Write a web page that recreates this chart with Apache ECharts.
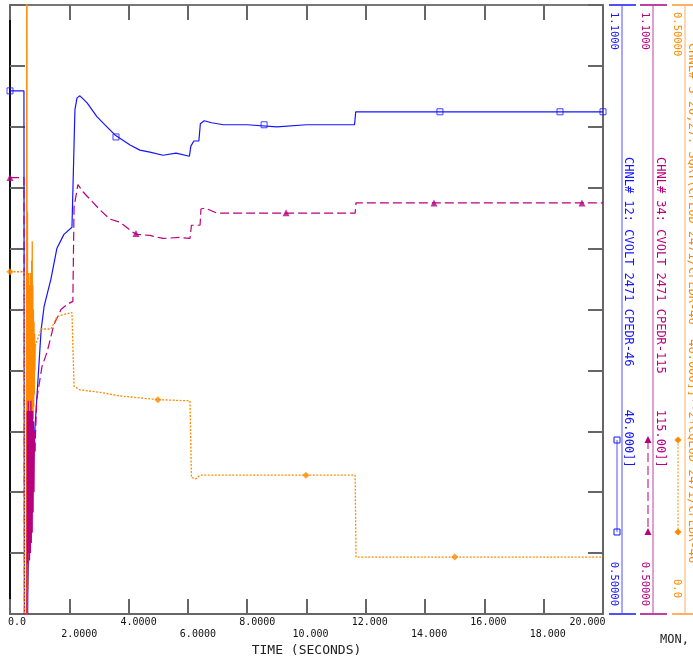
<!DOCTYPE html>
<html><head><meta charset="utf-8">
<script src="https://cdn.jsdelivr.net/npm/echarts@6/dist/echarts.min.js"></script>
<style>html,body{margin:0;padding:0;background:#fff}#c{width:693px;height:663px}</style>
</head><body><div id="c"></div>
<script>
// ---------- data ----------
const xTickLabels = ['0.0','2.0000','4.0000','6.0000','8.0000','10.000','12.000','14.000','16.000','18.000','20.000'];
const xRange = [0, 20];
const voltRange = [0.5, 1.1];
const sumRange = [0.0, 0.5];
const blueScaleLabels = ['1.1000', '0.50000'];
const magScaleLabels = ['1.1000', '0.50000'];
const orangeScaleLabels = ['0.50000', '0.0'];
const seriesTitles = [
  'CHNL# 12: CVOLT 2471 CPEDR-46      46.000]]',
  'CHNL# 34: CVOLT 2471 CPEDR-115     115.00]]',
  "CHNL#'S 20,27: SQRT(CPLOD 2471/CPEDR-46  46.000]]**2+CQLOD 2471/CPEDR-46"
];
const xTitle = 'TIME (SECONDS)';
const cornerNote = 'MON,';

// channel 12 (blue)
const blueVolt = [[0,1.0154],[0.47,1.0154],[0.49,0.40],[0.57,0.40],[0.60,0.52],[0.68,0.609],[0.88,0.701],[1.05,0.780],[1.15,0.803],[1.38,0.830],[1.58,0.860],[1.82,0.874],[2.09,0.881],[2.125,0.882],[2.19,0.997],[2.26,1.0085],[2.36,1.0105],[2.60,1.0036],[2.93,0.990],[3.27,0.980],[3.54,0.972],[4.05,0.962],[4.38,0.957],[4.72,0.955],[5.16,0.952],[5.60,0.954],[6.05,0.951],[6.07,0.951],[6.10,0.961],[6.20,0.966],[6.37,0.966],[6.42,0.983],[6.55,0.986],[6.80,0.984],[7.20,0.982],[8.0,0.982],[9.0,0.980],[10.0,0.982],[11.62,0.982],[11.66,0.9948],[20,0.9948]];
const blueMarks = [[0,1.0154],[3.575,0.970],[8.57,0.982],[14.5,0.9948],[18.55,0.9948],[20,0.9948]];

// channel 34 (magenta): dashed trace with a gap over the fault swing
const magVolt = [[0,0.930],[0.47,0.930],[0.49,0.42],[0.50,'-'],[0.84,0.66],[0.90,0.711],[1.08,0.744],[1.25,0.758],[1.48,0.785],[1.72,0.800],[1.92,0.805],[2.12,0.808],[2.16,0.901],[2.29,0.923],[2.46,0.916],[3.04,0.898],[3.37,0.889],[3.71,0.886],[4.15,0.876],[4.28,0.874],[4.72,0.873],[5.16,0.870],[5.73,0.871],[6.07,0.870],[6.12,0.883],[6.41,0.883],[6.44,0.899],[6.58,0.900],[6.98,0.895],[11.64,0.895],[11.67,0.905],[20,0.905]];
// magenta fault swing (dense oscillation)
const magFault = [[0.49,0.42],[0.57,0.42],[0.58,0.70],[0.60,0.55],[0.615,0.71],[0.63,0.56],[0.645,0.70],[0.66,0.553],[0.675,0.70],[0.69,0.56],[0.705,0.71],[0.72,0.57],[0.735,0.70],[0.75,0.58],[0.765,0.70],[0.78,0.60],[0.795,0.69],[0.81,0.62],[0.825,0.68],[0.84,0.66]];
const magMarks = [[0,0.930],[4.25,0.875],[9.31,0.8954],[14.3,0.905],[19.29,0.905]];

// channels 20,27 (orange): dotted trace with a gap over the fault swing
const orangeSum = [[0,0.281],[0.47,0.281],[0.49,-0.05],[0.50,'-'],[0.85,0.22],[1.05,0.234],[1.38,0.234],[1.585,0.244],[1.82,0.246],[2.09,0.2475],[2.125,0.2475],[2.16,0.187],[2.36,0.184],[3.04,0.182],[3.71,0.179],[4.99,0.176],[6.07,0.175],[6.12,0.112],[6.27,0.111],[6.41,0.114],[11.64,0.114],[11.67,0.0467],[20,0.0467]];
// orange fault swing (dense oscillation)
const orangeFault = [[0.56,-0.05],[0.57,1.2],[0.575,-0.05],[0.59,0.33],[0.60,0.02],[0.61,0.27],[0.62,0.05],[0.63,0.28],[0.64,0.10],[0.65,0.26],[0.66,0.13],[0.67,0.27],[0.68,0.14],[0.69,0.28],[0.70,0.15],[0.71,0.27],[0.72,0.15],[0.73,0.29],[0.74,0.15],[0.75,0.306],[0.76,0.16],[0.77,0.27],[0.78,0.16],[0.79,0.25],[0.80,0.17],[0.81,0.24],[0.82,0.18],[0.83,0.23],[0.84,0.20],[0.85,0.22]];
const orangeMarks = [[0,0.281],[4.99,0.176],[9.98,0.114],[15.0,0.0467]];

// ---------- styling ----------
const BLUE = '#1414ff', MAG = '#b8007f', ORG = '#ff8a00';
const MONO = '"DejaVu Sans Mono", "Liberation Mono", monospace';

const chart = echarts.init(document.getElementById('c'), null, {renderer: 'canvas'});

function xLabel(v) {
  const i = Math.round(v / 2);
  const s = xTickLabels[i];
  if (i === 0) return '{f|' + s + '}';
  if (i === xTickLabels.length - 1) return '{e|' + s + '}';
  const row2 = i % 2 === 1;
  const longInt = s.indexOf('.') > 1;
  return '{' + (row2 ? 's' : 'r') + (longInt ? 'B' : 'A') + '|' + s + '}';
}
const lbl = {fontFamily: MONO, fontSize: 10, color: '#111'};

const frameTick = {show: true, inside: true, length: 15, lineStyle: {color: '#666', width: 2}};

function rotText(x, y, text, color, size, align) {
  return {type: 'text', x: x, y: y, rotation: -Math.PI / 2, silent: true,
    style: {text: text, fill: color, font: size + 'px ' + MONO, align: align, textAlign: align,
      verticalAlign: 'middle', textVerticalAlign: 'middle'}};
}
function vline(x, y1, y2, color, dash) {
  return {type: 'line', silent: true, shape: {x1: x, y1: y1, x2: x, y2: y2},
    style: {stroke: color, lineWidth: 1, lineDash: dash || null}};
}
function hline(x1, x2, y, color) {
  return {type: 'line', silent: true, shape: {x1: x1, y1: y, x2: x2, y2: y}, style: {stroke: color, lineWidth: 2}};
}
function sq(x, y, c) { return {type: 'rect', silent: true, shape: {x: x - 3, y: y - 3, width: 6, height: 6}, style: {fill: 'none', stroke: c, lineWidth: 1}}; }
function tri(x, y, c) { return {type: 'polygon', silent: true, shape: {points: [[x, y - 4], [x - 3.5, y + 3], [x + 3.5, y + 3]]}, style: {fill: c}}; }
function dia(x, y, c) { return {type: 'polygon', silent: true, shape: {points: [[x, y - 3.5], [x + 3.5, y], [x, y + 3.5], [x - 3.5, y]]}, style: {fill: c}}; }

const legendGraphics = [
  vline(622, 5, 614, '#5050ff'), hline(609, 636, 5, '#5050ff'), hline(609, 636, 614, '#5050ff'),
  rotText(614, 12, blueScaleLabels[0], BLUE, 10.5, 'left'),
  rotText(614, 606, blueScaleLabels[1], BLUE, 10.5, 'right'),
  rotText(628, 157, seriesTitles[0], BLUE, 12, 'left'),
  vline(617, 440, 532, '#5050ff'), sq(617, 440, BLUE), sq(617, 532, BLUE),
  vline(653, 5, 614, '#c040a0'), hline(640, 667, 5, '#c040a0'), hline(640, 667, 614, '#c040a0'),
  rotText(645, 12, magScaleLabels[0], MAG, 10.5, 'left'),
  rotText(645, 606, magScaleLabels[1], MAG, 10.5, 'right'),
  rotText(660, 157, seriesTitles[1], MAG, 12, 'left'),
  vline(648, 440, 532, MAG, [9, 4]), tri(648, 440, MAG), tri(648, 532, MAG),
  vline(685, 5, 614, '#ffb060'), hline(672, 693, 5, '#ffb060'), hline(672, 693, 614, '#ffb060'),
  rotText(677, 12, orangeScaleLabels[0], ORG, 10.5, 'left'),
  rotText(677, 598, orangeScaleLabels[1], ORG, 10.5, 'right'),
  rotText(692, 43, seriesTitles[2], ORG, 12, 'left'),
  vline(678, 440, 532, ORG, [2, 1.5]), dia(678, 440, ORG), dia(678, 532, ORG),
  {type: 'text', x: 660, y: 640, silent: true, style: {text: cornerNote, fill: '#222', font: '12px ' + MONO, align: 'left', textAlign: 'left', verticalAlign: 'middle', textVerticalAlign: 'middle'}}
];

const option = {
  animation: false,
  backgroundColor: '#fff',
  grid: {left: 10, right: 90, top: 5, bottom: 49, containLabel: false},
  xAxis: [
    {type: 'value', position: 'bottom', min: xRange[0], max: xRange[1], interval: 2,
      axisLine: {show: true, onZero: false, lineStyle: {color: '#666', width: 2}},
      axisTick: frameTick, splitLine: {show: false},
      axisLabel: {show: true, margin: 3, formatter: xLabel, ...lbl,
        rich: {
          f: {...lbl, padding: [0, 0, 0, 14]},
          e: {...lbl, padding: [0, 31, 0, 0]},
          rA: {...lbl, padding: [0, 0, 0, 20]},
          rB: {...lbl, padding: [0, 0, 0, 8]},
          sA: {...lbl, padding: [12, 0, 0, 20]},
          sB: {...lbl, padding: [12, 0, 0, 8]}
        }},
      name: xTitle, nameLocation: 'middle', nameGap: 30,
      nameTextStyle: {fontFamily: MONO, fontSize: 13, color: '#222'}},
    {type: 'value', position: 'top', min: xRange[0], max: xRange[1], interval: 2,
      axisLine: {show: true, onZero: false, lineStyle: {color: '#777', width: 2}},
      axisTick: frameTick, axisLabel: {show: false}, splitLine: {show: false}}
  ],
  yAxis: [
    {type: 'value', position: 'left', min: 0, max: 10, interval: 1,
      axisLine: {show: true, onZero: false, lineStyle: {color: '#111', width: 2}},
      axisTick: frameTick, axisLabel: {show: false}, splitLine: {show: false}},
    {type: 'value', position: 'right', min: 0, max: 10, interval: 1,
      axisLine: {show: true, onZero: false, lineStyle: {color: '#666', width: 2}},
      axisTick: frameTick, axisLabel: {show: false}, splitLine: {show: false}},
    {type: 'value', min: voltRange[0], max: voltRange[1], show: false},
    {type: 'value', min: voltRange[0], max: voltRange[1], show: false},
    {type: 'value', min: sumRange[0], max: sumRange[1], show: false}
  ],
  series: [
    {type: 'line', yAxisIndex: 2, data: blueVolt, symbol: 'none', clip: true,
      lineStyle: {color: BLUE, width: 1.2}, z: 2},
    {type: 'line', yAxisIndex: 3, data: magVolt, symbol: 'none', clip: true, connectNulls: false,
      lineStyle: {color: MAG, width: 1.2, type: [9, 4]}, z: 3},
    {type: 'line', yAxisIndex: 4, data: orangeSum, symbol: 'none', clip: true, connectNulls: false,
      lineStyle: {color: ORG, width: 1.3, type: [2, 1.5]}, z: 4},
    {type: 'line', yAxisIndex: 4, data: orangeFault, symbol: 'none', clip: true,
      lineStyle: {color: ORG, width: 1.3}, z: 4},
    {type: 'line', yAxisIndex: 3, data: magFault, symbol: 'none', clip: true,
      lineStyle: {color: MAG, width: 1.2}, z: 5},
    {type: 'scatter', yAxisIndex: 2, data: blueMarks, symbol: 'rect', symbolSize: 6, clip: false,
      itemStyle: {color: 'rgba(255,255,255,0)', borderColor: BLUE, borderWidth: 1}, z: 6},
    {type: 'scatter', yAxisIndex: 3, data: magMarks, symbol: 'triangle', symbolSize: 7, clip: false,
      itemStyle: {color: MAG}, z: 6},
    {type: 'scatter', yAxisIndex: 4, data: orangeMarks, symbol: 'diamond', symbolSize: 7, clip: false,
      itemStyle: {color: ORG}, z: 6}
  ],
  graphic: legendGraphics
};
chart.setOption(option);
</script>
</body></html>
